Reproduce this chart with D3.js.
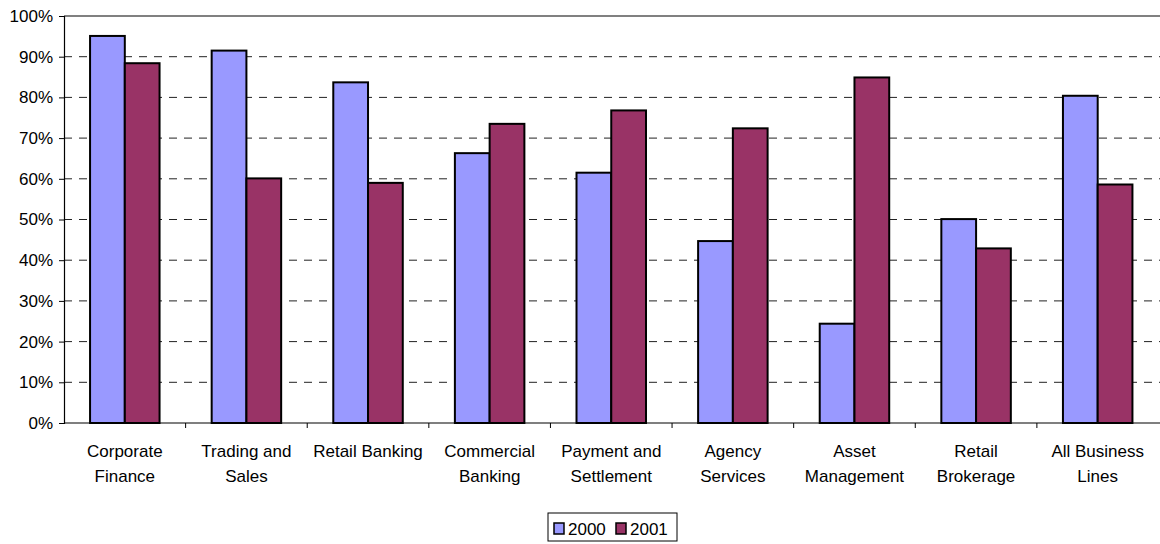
<!DOCTYPE html>
<html>
<head>
<meta charset="utf-8">
<script src="https://cdn.jsdelivr.net/npm/d3@7"></script>
<style>
  html, body { margin: 0; padding: 0; background: #fff; }
  svg { display: block; font-family: "Liberation Sans", Arial, sans-serif; }
</style>
</head>
<body>
<svg id="chart" width="1160" height="544"></svg>
<script>
// Share of operational loss events by business line, 2000 vs 2001
const categories = [
  "Corporate\nFinance",
  "Trading and\nSales",
  "Retail Banking",
  "Commercial\nBanking",
  "Payment and\nSettlement",
  "Agency\nServices",
  "Asset\nManagement",
  "Retail\nBrokerage",
  "All Business\nLines"
];
const seriesNames = ["2000", "2001"];
const values2000 = [0.951, 0.915, 0.837, 0.663, 0.615, 0.447, 0.244, 0.501, 0.804];
const values2001 = [0.884, 0.601, 0.590, 0.735, 0.768, 0.724, 0.849, 0.429, 0.586];
const yTicks = [0, 0.1, 0.2, 0.3, 0.4, 0.5, 0.6, 0.7, 0.8, 0.9, 1.0];
const colors = ["#9999ff", "#993366"];

const svg = d3.select("#chart");
const plot = { left: 64, right: 1158.5, top: 16, bottom: 423 };
const fontSize = 17;

const x = d3.scaleBand()
  .domain(categories)
  .range([plot.left, plot.right])
  .paddingInner(0)
  .paddingOuter(0);

const y = d3.scaleLinear().domain([0, 1]).range([plot.bottom, plot.top]);

// Inner band for the two bars in each category (150% gap between groups)
const groupWidth = x.bandwidth() * 2 / 3.5;
const xs = d3.scaleBand()
  .domain(seriesNames)
  .range([(x.bandwidth() - groupWidth) / 2, (x.bandwidth() + groupWidth) / 2]);

// Gridlines
svg.append("g")
  .selectAll("line")
  .data(yTicks.filter(t => t > 0 && t < 1))
  .join("line")
  .attr("x1", plot.left)
  .attr("x2", plot.right + 2)
  .attr("y1", d => y(d))
  .attr("y2", d => y(d))
  .attr("stroke", "#222")
  .attr("stroke-width", 1)
  .attr("stroke-dasharray", "8,7");

// Top border of the plot area
svg.append("line")
  .attr("x1", plot.left).attr("x2", 1160)
  .attr("y1", y(1)).attr("y2", y(1))
  .attr("stroke", "#808080").attr("stroke-width", 2);

// Bars
const data = categories.map((c, i) => ({ cat: c, vals: [values2000[i], values2001[i]] }));
const groups = svg.append("g")
  .selectAll("g")
  .data(data)
  .join("g")
  .attr("transform", d => `translate(${x(d.cat)},0)`);

groups.selectAll("rect")
  .data(d => d.vals.map((v, k) => ({ key: seriesNames[k], v, k })))
  .join("rect")
  .attr("x", d => xs(d.key))
  .attr("width", xs.bandwidth())
  .attr("y", d => y(d.v))
  .attr("height", d => y(0) - y(d.v))
  .attr("fill", d => colors[d.k])
  .attr("stroke", "#000")
  .attr("stroke-width", 2);

// Y axis
const yAxis = d3.axisLeft(y)
  .tickValues(yTicks)
  .tickFormat(d3.format(".0%"))
  .tickSize(5)
  .tickPadding(6);
const gy = svg.append("g")
  .attr("transform", `translate(${plot.left},0)`)
  .call(yAxis);
gy.select(".domain").attr("stroke", "#000").attr("stroke-width", 1.2);
gy.selectAll(".tick line").attr("stroke", "#000");
gy.selectAll(".tick text")
  .attr("font-size", fontSize)
  .attr("font-family", "Liberation Sans, Arial, sans-serif")
  .attr("fill", "#000");

// X axis line and boundary ticks
svg.append("line")
  .attr("x1", plot.left).attr("x2", 1160)
  .attr("y1", plot.bottom).attr("y2", plot.bottom)
  .attr("stroke", "#000").attr("stroke-width", 1.2);

svg.append("g")
  .selectAll("line")
  .data(categories.slice(1))
  .join("line")
  .attr("x1", d => x(d)).attr("x2", d => x(d))
  .attr("y1", plot.bottom).attr("y2", plot.bottom + 5)
  .attr("stroke", "#000");

// Category labels (wrapped)
const labels = svg.append("g")
  .selectAll("text")
  .data(categories)
  .join("text")
  .attr("x", d => x(d) + x.bandwidth() / 2)
  .attr("y", 457)
  .attr("text-anchor", "middle")
  .attr("font-size", fontSize)
  .attr("fill", "#000");
labels.selectAll("tspan")
  .data(d => d.split("\n").map(line => ({ line, cat: d })))
  .join("tspan")
  .attr("x", d => x(d.cat) + x.bandwidth() / 2)
  .attr("dy", (d, i) => i === 0 ? 0 : 25)
  .text(d => d.line);

// Legend
const legend = svg.append("g").attr("transform", "translate(548,513)");
legend.append("rect")
  .attr("x", 0).attr("y", 0)
  .attr("width", 129).attr("height", 28)
  .attr("fill", "#fff").attr("stroke", "#000").attr("stroke-width", 1);
const items = legend.selectAll("g.item")
  .data(seriesNames)
  .join("g")
  .attr("class", "item")
  .attr("transform", (d, i) => `translate(${6 + i * 62},0)`);
items.append("rect")
  .attr("x", 0).attr("y", 10)
  .attr("width", 10).attr("height", 11)
  .attr("fill", (d, i) => colors[i])
  .attr("stroke", "#000").attr("stroke-width", 1.5);
items.append("text")
  .attr("x", 14).attr("y", 21.5)
  .attr("font-size", fontSize)
  .attr("fill", "#000")
  .text(d => d);
</script>
</body>
</html>
